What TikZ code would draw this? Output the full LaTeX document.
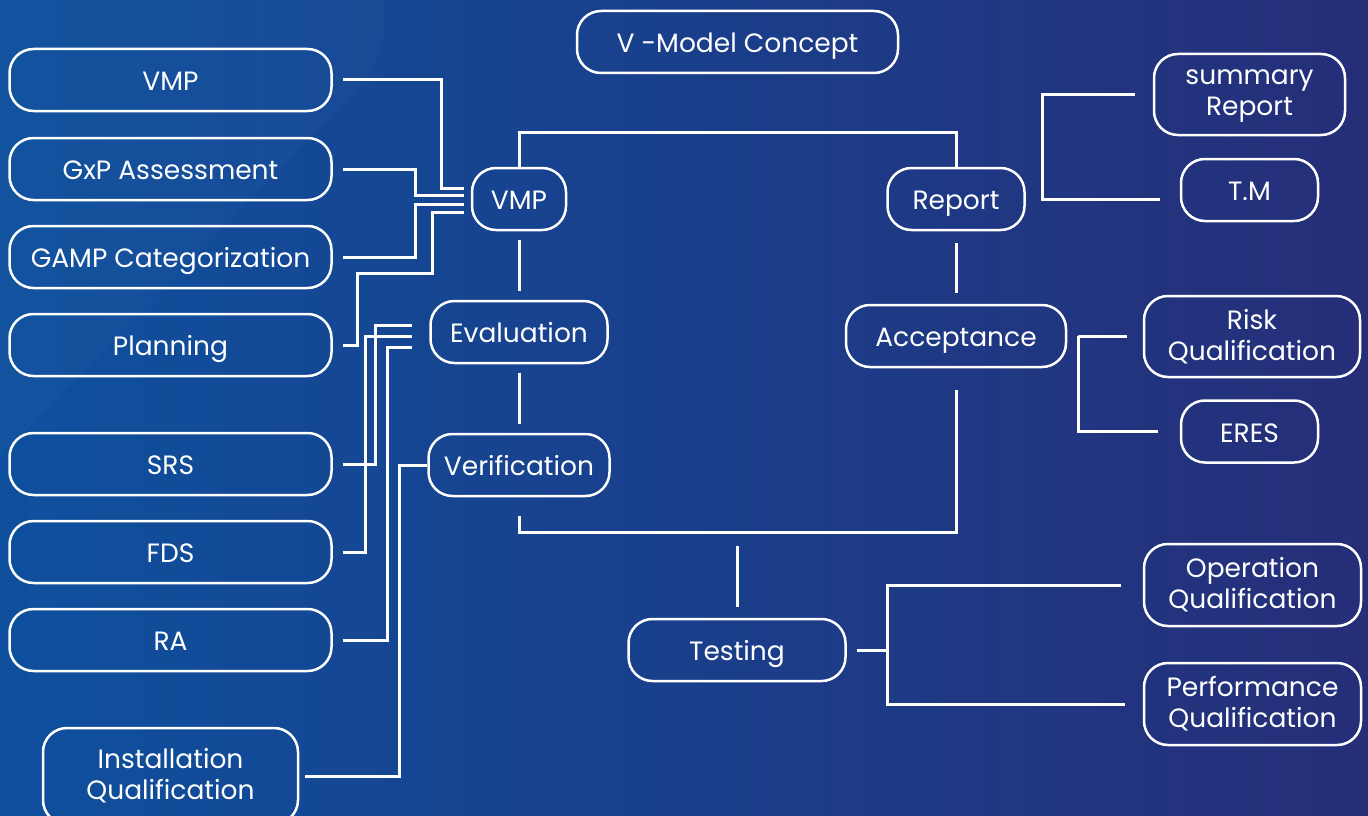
\documentclass[tikz,border=0pt]{standalone}
\usepackage{fontspec}
\setmainfont{Poppins}
\usetikzlibrary{positioning,calc}
\definecolor{bgleft}{RGB}{14,80,158}
\definecolor{bgmid}{RGB}{30,62,140}
\definecolor{bgright}{RGB}{38,46,120}
\tikzset{
  box/.style={draw=white, line width=2.5pt, rounded corners=24pt, minimum height=62pt,
    text=white, align=center, font=\fontsize{26.5}{31}\selectfont, inner sep=0pt},
  onebox/.style={box, text height=23pt, text depth=2pt},
  link/.style={draw=white, line width=3pt},
}
\begin{document}
\begin{tikzpicture}[x=1pt,y=-1pt]
	\useasboundingbox (0,0) rectangle (1368,816);
	\shade[left color=bgleft, middle color=bgmid, right color=bgright] (0,0) rectangle (1368,816);
	\begin{scope}
		\clip (0,0) rectangle (1368,816);
		\fill[white,opacity=.02,rounded corners=40pt] (-60,-40) -- (385,-40) -- (385,60) -- (-60,520) -- cycle; % light band
	\end{scope}
	% left column
	\node[onebox, minimum width=322] (lvmp) at (170.5,80) {VMP};
	\node[onebox, minimum width=322] (gxp) at (170.5,169) {GxP Assessment};
	\node[onebox, minimum width=322] (gamp) at (170.5,257) {GAMP Categorization};
	\node[onebox, minimum width=322] (plan) at (170.5,345) {Planning};
	\node[onebox, minimum width=322] (srs) at (170.5,464) {SRS};
	\node[onebox, minimum width=322] (fds) at (170.5,552) {FDS};
	\node[onebox, minimum width=322] (ra) at (170.5,640) {RA};
	\node[box, minimum width=255, minimum height=96] (inst) at (170.5,776) {Installation\\Qualification};
	% V shape
	\node[onebox, minimum width=321] (title) at (737.5,42) {V -Model Concept};
	\node[onebox, minimum width=94] (vmpc) at (519,199) {VMP};
	\node[onebox, minimum width=177] (eval) at (519,332) {Evaluation};
	\node[onebox, minimum width=181] (verif) at (519,465) {Verification};
	\node[onebox, minimum width=137] (report) at (956,199) {Report};
	\node[onebox, minimum width=220] (accept) at (956,336) {Acceptance};
	\node[onebox, minimum width=217] (testing) at (737,650) {Testing};
	% right column
	\node[box, minimum width=191, minimum height=81] (summ) at (1249.5,94.5) {\vphantom{R}summary\\Report};
	\node[onebox, minimum width=137] (tm) at (1249.5,190) {T.M};
	\node[box, minimum width=216, minimum height=81] (risk) at (1252,336.5) {Risk\\Qualification};
	\node[onebox, minimum width=137] (eres) at (1249.5,431.5) {ERES};
	\node[box, minimum width=217, minimum height=82] (oq) at (1252.5,585) {Operation\\Qualification};
	\node[box, minimum width=217, minimum height=82] (pq) at (1252.5,704) {Performance\\Qualification};
	% feeds into VMP
	\draw[link] ([xshift=10]lvmp.east) -| ([xshift=-29,yshift=11]vmpc.west) -- ([xshift=-7,yshift=11]vmpc.west);
	\draw[link] ([xshift=10]gxp.east) -| ([xshift=-55,yshift=4]vmpc.west) -- ([xshift=-7,yshift=4]vmpc.west);
	\draw[link] ([xshift=10]gamp.east) -| ([xshift=-55,yshift=-5]vmpc.west) -- ([xshift=-7,yshift=-5]vmpc.west);
	\draw[link] ([xshift=10]plan.east) -| ([xshift=-113,yshift=-74]vmpc.west) -| ([xshift=-38,yshift=-13]vmpc.west) -- ([xshift=-7,yshift=-13]vmpc.west);
	% feeds into Evaluation
	\draw[link] ([xshift=10]srs.east) -| ([xshift=-53.5,yshift=7]eval.west) -- ([xshift=-17,yshift=7]eval.west);
	\draw[link] ([xshift=10]fds.east) -| ([xshift=-63.5,yshift=-4]eval.west) -- ([xshift=-17,yshift=-4]eval.west);
	\draw[link] ([xshift=10]ra.east) -| ([xshift=-41.5,yshift=-15]eval.west) -- ([xshift=-17,yshift=-15]eval.west);
	\draw[link] ([xshift=6]inst.east) -| ([xshift=-27.5]verif.west) -- (verif.west);
	% the V
	\draw[link] (vmpc.north) -- ++(0,-34) -| (report.north);
	\draw[link] ([yshift=-9]vmpc.south) -- ([yshift=9]eval.north);
	\draw[link] ([yshift=-9]eval.south) -- ([yshift=9]verif.north);
	\draw[link] ([yshift=-19]verif.south) -- ++(0,16) -| ([yshift=-22]accept.south);
	\draw[link] ([yshift=-12]report.south) -- ([yshift=11]accept.north);
	\draw[link] ([yshift=11]testing.north) -- ++(0,-61);
	% brackets on the right
	\draw[link] ([xshift=-18]summ.west) -| ([xshift=17]report.east) -- ([xshift=-20]tm.west |- report.east);
	\draw[link] ([xshift=-16]risk.west) -| ([xshift=11]accept.east) |- ([xshift=-22]eres.west);
	\draw[link] ([xshift=10]testing.east) -- ++(31,0);
	\draw[link] ([xshift=-22]oq.west) -| ([xshift=41]testing.east) |- ([xshift=-18]pq.west);
\end{tikzpicture}
\end{document}
